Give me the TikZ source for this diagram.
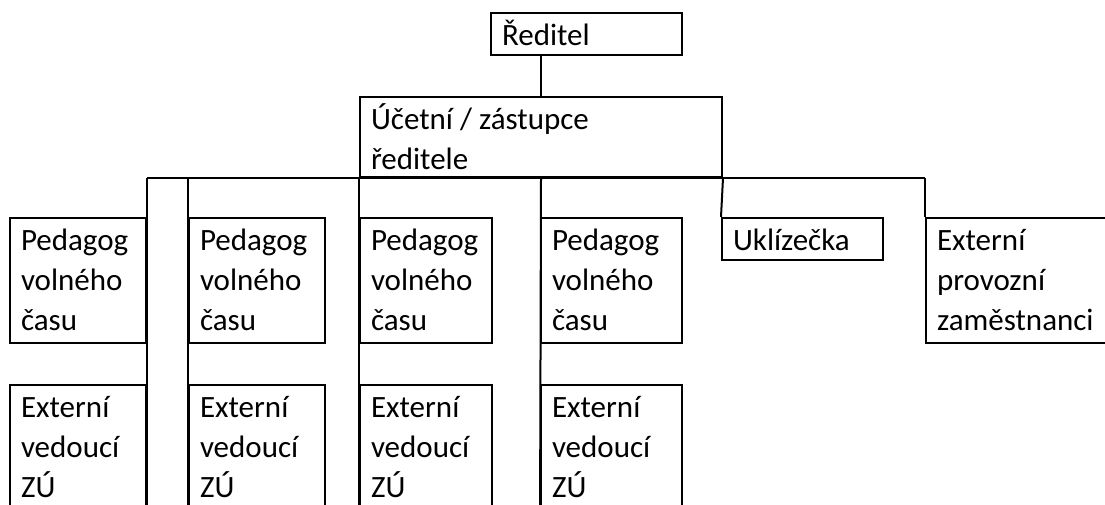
\documentclass[tikz,border=0pt]{standalone}
\usepackage{fontspec}
\setmainfont{Carlito}
\newcommand{\bxtext}[3]{\parbox[c][#2][t]{#1}{\raggedright\leftskip=11pt\baselineskip=40pt\rule{0pt}{32pt}#3}}
\tikzset{
  orgbox/.style={draw=black, line width=2pt, inner sep=0pt, font=\fontsize{31}{40}\selectfont},
  conn/.style={draw=black, line width=2pt}
}
\begin{document}
\begin{tikzpicture}[x=1pt,y=-1pt]
\useasboundingbox (0,0) rectangle (1105,504);
\clip (0,0) rectangle (1105,504);
% boxes
\node[orgbox] (red) at (586.5,34) {\bxtext{191pt}{42pt}{Ředitel}};
\node[orgbox] (uc)  at (541,137) {\bxtext{362pt}{80pt}{Účetní / zástupce\\ředitele}};
\node[orgbox] (p1) at (78,280.5)  {\bxtext{136pt}{125pt}{Pedagog\\volného\\času}};
\node[orgbox] (p2) at (257,280.5) {\bxtext{136pt}{125pt}{Pedagog\\volného\\času}};
\node[orgbox] (p3) at (426,280.5) {\bxtext{132pt}{125pt}{Pedagog\\volného\\času}};
\node[orgbox] (p4) at (611.5,280.5) {\bxtext{141pt}{125pt}{Pedagog\\volného\\času}};
\node[orgbox] (e1) at (78,460)  {\bxtext{136pt}{150pt}{Externí\\vedoucí\\ZÚ}};
\node[orgbox] (e2) at (257,460) {\bxtext{136pt}{150pt}{Externí\\vedoucí\\ZÚ}};
\node[orgbox] (e3) at (426,460) {\bxtext{132pt}{150pt}{Externí\\vedoucí\\ZÚ}};
\node[orgbox] (e4) at (611.5,460) {\bxtext{141pt}{150pt}{Externí\\vedoucí\\ZÚ}};
\node[orgbox] (ukl) at (802.5,239) {\bxtext{161pt}{42pt}{Uklízečka}};
\node[orgbox] (ext) at (1028,280.5) {\bxtext{204pt}{125pt}{Externí\\provozní\\zaměstnanci}};
% connectors
\coordinate (busL) at (e1.east |- uc.south);
\coordinate (busL2) at (e2.west |- uc.south);
\coordinate (busR) at (ext.west |- uc.south);
\draw[conn] (uc.north) -- (uc.north |- red.south);
\draw[conn] (busL) -- (busR);
\draw[conn] (busL) -- (e1.south east);
\draw[conn] (busL2) -- (e2.south west);
\draw[conn] (uc.south west) -- (e3.south west);
\draw[conn] (uc.south) -- (e4.south west);
\draw[conn] (uc.south east) -- (ukl.north west);
\draw[conn] (busR) -- (ext.north west);
\end{tikzpicture}
\end{document}
